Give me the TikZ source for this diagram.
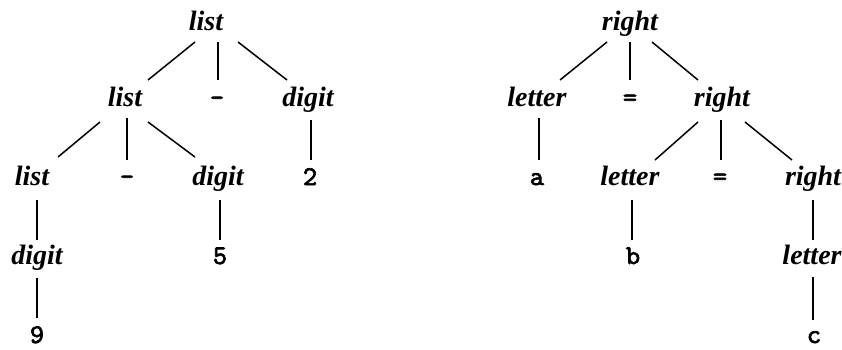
\documentclass[tikz,border=0pt]{standalone}
\usepackage{fontspec}
\setmainfont{Liberation Serif}
\newfontfamily\tfont[FakeBold=2.5]{lmmono10-regular.otf}
\begin{document}
\begin{tikzpicture}[x=1pt,y=-1pt,
  nt/.style={anchor=base,inner sep=0pt,font=\fontsize{28}{28}\selectfont\bfseries\itshape},
  tm/.style={anchor=base,inner sep=0pt,font=\fontsize{27}{27}\selectfont\tfont},
  edge/.style={line width=1.5pt}]
\useasboundingbox (0,0) rectangle (842,349);
% left tree
\node[nt] (L1) at (206,30) {list};
\node[nt] (L2a) at (125,106) {list};
\node[tm] (m1) at (217,106) {-};
\node[nt] (d1) at (308,106) {digit};
\node[nt] (L3a) at (32,185) {list};
\node[tm] (m2) at (127,185) {-};
\node[nt] (d2) at (218,185) {digit};
\node[tm] (t2) at (310,185) {2};
\node[nt] (d3) at (37,264) {digit};
\node[tm] (t5) at (220,264) {5};
\node[tm] (t9) at (37,343) {9};
\draw[edge] ([shift={(-11,12)}]L1.base) -- ([shift={(23,-26)}]L2a.base);
\draw[edge] ([shift={(12,12)}]L1.base) -- ([shift={(1,-26)}]m1.base);
\draw[edge] ([shift={(32,12)}]L1.base) -- ([shift={(-21,-26)}]d1.base);
\draw[edge] ([shift={(-25,16)}]L2a.base) -- ([shift={(26,-28)}]L3a.base);
\draw[edge] ([shift={(2,12)}]L2a.base) -- ([shift={(0,-25)}]m2.base);
\draw[edge] ([shift={(23,16)}]L2a.base) -- ([shift={(-23,-28)}]d2.base);
\draw[edge] ([shift={(3,14)}]d1.base) -- ([shift={(1,-25)}]t2.base);
\draw[edge] ([shift={(5,15)}]L3a.base) -- ([shift={(0,-24)}]d3.base);
\draw[edge] ([shift={(0,14)}]d3.base) -- ([shift={(0,-25)}]t9.base);
\draw[edge] ([shift={(2,15)}]d2.base) -- ([shift={(0,-24)}]t5.base);
% right tree
\node[nt] (R1) at (630,30) {right};
\node[nt] (le1) at (537,106) {letter};
\node[tm] (eq1) at (630,106) {=};
\node[nt] (r2) at (722,106) {right};
\node[tm] (ta) at (537,185) {a};
\node[nt] (le2) at (630,185) {letter};
\node[tm] (eq2) at (720,185) {=};
\node[nt] (r3) at (813,185) {right};
\node[tm] (tb) at (633,264) {b};
\node[nt] (le3) at (812,264) {letter};
\node[tm] (tc) at (814,343) {c};
\draw[edge] ([shift={(-23,12)}]R1.base) -- ([shift={(23,-26)}]le1.base);
\draw[edge] ([shift={(0,12)}]R1.base) -- ([shift={(0,-26)}]eq1.base);
\draw[edge] ([shift={(22,12)}]R1.base) -- ([shift={(-24,-26)}]r2.base);
\draw[edge] ([shift={(2,12)}]le1.base) -- ([shift={(2,-25)}]ta.base);
\draw[edge] ([shift={(-24,16)}]r2.base) -- ([shift={(25,-25)}]le2.base);
\draw[edge] ([shift={(-1,14)}]r2.base) -- ([shift={(1,-25)}]eq2.base);
\draw[edge] ([shift={(23,16)}]r2.base) -- ([shift={(-21,-25)}]r3.base);
\draw[edge] ([shift={(2,15)}]le2.base) -- ([shift={(-1,-24)}]tb.base);
\draw[edge] ([shift={(0,15)}]r3.base) -- ([shift={(1,-24)}]le3.base);
\draw[edge] ([shift={(1,13)}]le3.base) -- ([shift={(-1,-23)}]tc.base);
\end{tikzpicture}
\end{document}
